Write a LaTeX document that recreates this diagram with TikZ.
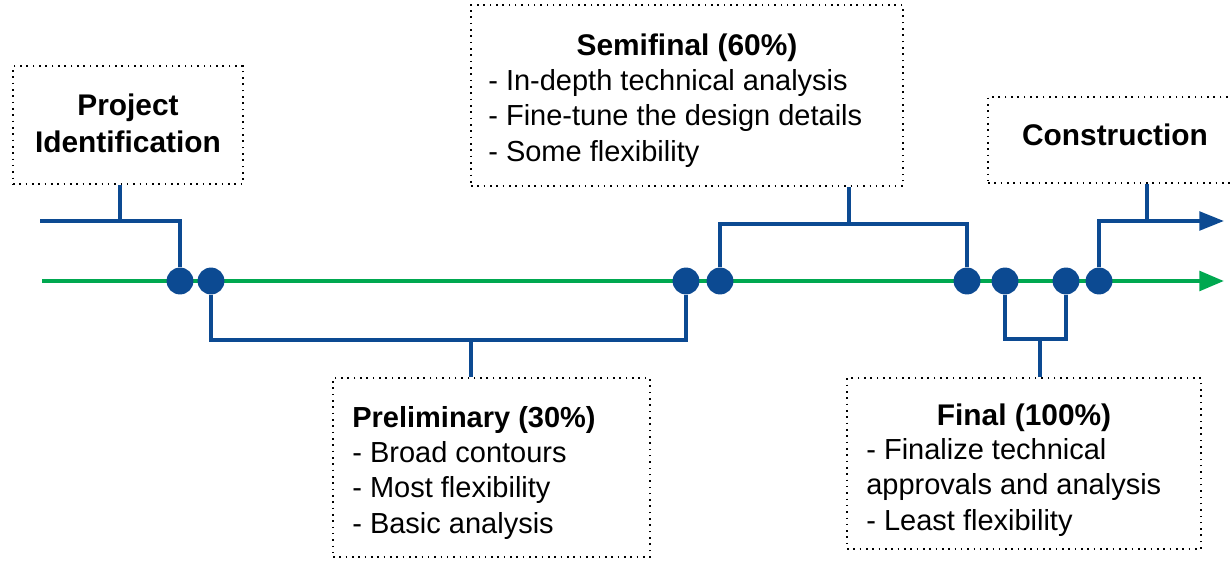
\documentclass[tikz,border=0pt]{standalone}
\usepackage{fontspec}
\setmainfont{Liberation Sans}
\usetikzlibrary{arrows.meta}

\definecolor{tlblue}{RGB}{12,74,146}
\definecolor{tlgreen}{RGB}{0,168,80}

\tikzset{
  timeline/.style={draw=tlgreen, line width=2.5pt, -{Triangle[length=14pt,width=11pt]}},
  milestone/.style={circle, fill=tlblue, inner sep=0pt, minimum size=15.3pt},
  bracket/.style={draw=tlblue, line width=2.2pt},
  stagebox/.style={draw=black, line width=0.9pt, dash pattern=on 0.9pt off 2.7pt, inner sep=0pt},
  listtext/.style={font=\fontsize{16.5}{20.1}\selectfont, align=left, inner sep=0pt},
  titletext/.style={font=\bfseries\fontsize{17}{21}\selectfont, inner sep=0pt}
}

\begin{document}
\begin{tikzpicture}[x=0.02cm, y=-0.02cm]
    \useasboundingbox (0,0) rectangle (1230,561);

    % Zeitachse (gruen)
    \coordinate (tlstart) at (42,281);
    \coordinate (tlend) at (1224,281);
    \draw[timeline] (tlstart) -- (tlend);

    % Meilensteine
    \node[milestone] (m1) at (180,281) {};
    \node[milestone] (m2) at (211,281) {};
    \node[milestone] (m3) at (686,281) {};
    \node[milestone] (m4) at (720,281) {};
    \node[milestone] (m5) at (967,281) {};
    \node[milestone] (m6) at (1005,281) {};
    \node[milestone] (m7) at (1066,281) {};
    \node[milestone] (m8) at (1099,281) {};

    % Project Identification (base = letzte Zeile)
    \node[stagebox, minimum width=4.6cm, minimum height=2.36cm] (ident) at (128,125) {};
    \node[titletext, align=center, anchor=base] (identtxt) at (128,152) {Project\\Identification};
    \coordinate (identstart) at (40,221);
    \coordinate (identjoin) at (120,221);
    \draw[bracket] (identstart) -| (m1);
    \draw[bracket] (identjoin |- ident.south) -- (identjoin);

    % Preliminary (30%)
    \node[stagebox, minimum width=6.34cm, minimum height=3.58cm] (prelim) at (491.5,467.5) {};
    \node[listtext, anchor=base west] (prelimtxt) at (352,533) {\textbf{Preliminary (30\%)}\\- Broad contours\\- Most flexibility\\- Basic analysis};
    \coordinate (prelimjoin) at (471,340);
    \draw[bracket] (m2) |- (prelimjoin) -| (m3);
    \draw[bracket] (prelimjoin) -- (prelimjoin |- prelim.north);

    % Semifinal (60%)
    \node[stagebox, minimum width=8.64cm, minimum height=3.62cm] (semi) at (687,95.5) {};
    \node[titletext, anchor=base] (semititle) at (687,55) {Semifinal (60\%)};
    \node[listtext, anchor=base west] (semitxt) at (488,161) {- In-depth technical analysis\\- Fine-tune the design details\\- Some flexibility};
    \coordinate (semijoin) at (849,224);
    \draw[bracket] (m4) |- (semijoin) -| (m5);
    \draw[bracket] (semijoin) -- (semijoin |- semi.south);

    % Final (100%)
    \node[stagebox, minimum width=7.08cm, minimum height=3.42cm] (final) at (1024,463.5) {};
    \node[titletext, anchor=base] (finaltitle) at (1024,425) {Final (100\%)};
    \node[listtext, anchor=base west] (finaltxt) at (866,530) {- Finalize technical\\approvals and analysis\\- Least flexibility};
    \coordinate (finaljoin) at (1040,339);
    \draw[bracket] (m6) |- (finaljoin) -| (m7);
    \draw[bracket] (finaljoin) -- (finaljoin |- final.north);

    % Construction
    \node[stagebox, minimum width=5.08cm, minimum height=1.72cm] (constr) at (1115,140) {};
    \node[titletext, anchor=base] (constrtxt) at (1115,145) {Construction};
    \coordinate (constend) at (1224,221);
    \coordinate (constjoin) at (1147,221);
    \draw[bracket, -{Triangle[length=14pt,width=10.5pt]}] (m8) |- (constend);
    \draw[bracket] (constjoin |- constr.south) -- (constjoin);
\end{tikzpicture}
\end{document}
